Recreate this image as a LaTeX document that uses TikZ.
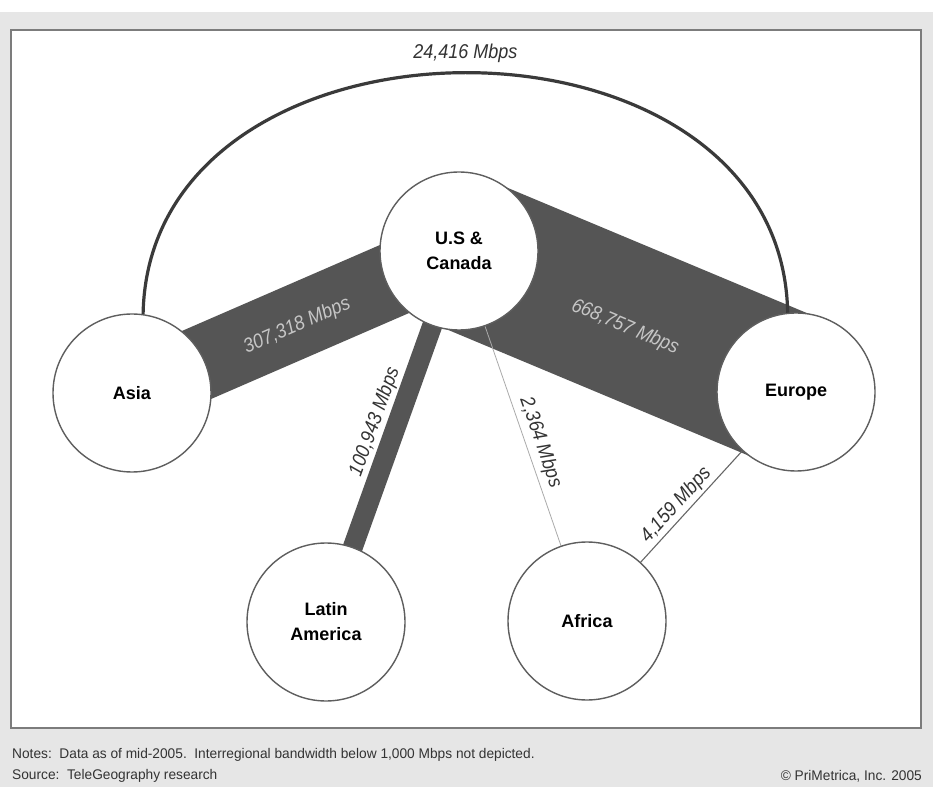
\documentclass[tikz,border=0pt]{standalone}
\usepackage{fontspec}
\setmainfont{Liberation Sans}
\newfontfamily\mbpsfont[FakeStretch=0.9]{Liberation Sans}
\newfontfamily\notefont[FakeStretch=0.98]{Liberation Sans}
\usetikzlibrary{positioning}
\pgfdeclarelayer{frame}
\pgfdeclarelayer{bands}
\pgfsetlayers{frame,bands,main}
\definecolor{pagegray}{HTML}{E6E6E6}
\definecolor{framegray}{HTML}{7C7C7C}
\definecolor{bandgray}{HTML}{555555}
\definecolor{circgray}{HTML}{5E5E5E}
\definecolor{arcgray}{HTML}{3A3A3A}
\definecolor{labelgray}{HTML}{C6C6C6}
\definecolor{textgray}{HTML}{333333}
\definecolor{faintline}{HTML}{AAAAAA}
\definecolor{midline}{HTML}{666666}

\begin{document}
\begin{tikzpicture}[x=1pt, y=1pt,
    region/.style={circle, draw=circgray, line width=1.4pt, fill=white,
        minimum size=158pt, inner sep=0pt, align=center, text=black,
        font=\bfseries\fontsize{18}{25}\selectfont},
    band/.style={draw=bandgray},
    mbps/.style={font=\mbpsfont\itshape\fontsize{20}{24}\selectfont, inner sep=0pt, outer sep=0pt},
    bandlabel/.style={mbps, sloped, text=labelgray},
    linelabel/.style={mbps, sloped, text=textgray},
    note/.style={font=\notefont\fontsize{14}{16}\selectfont, text=textgray, inner sep=0pt}]
    \useasboundingbox (0,0) rectangle (933,787);

    % Page and frame
    \begin{pgfonlayer}{frame}
        \fill[pagegray] (0,0) rectangle (933,787);
        \fill[white] (0,775) rectangle (933,787);
        \draw[framegray, line width=1.5pt, fill=white] (11,59) rectangle (921,757);
    \end{pgfonlayer}

    % Regions
    \node[region] (us) at (459,536) {U.S \&\\Canada};
    \node[region] (asia) at (132,394) {Asia};
    \node[region] (europe) at (796,395) {Europe};
    \node[region] (latam) at (326,165) {Latin\\America};
    \node[region] (africa) at (587,166) {Africa};

    % Bandwidth between regions
    \begin{pgfonlayer}{bands}
        \path
        (asia.center) edge[band, line width=74pt] node[bandlabel, pos=0.5, below=-5pt] {307,318 Mbps} (us.center)
        (us.center) edge[band, line width=154pt] node[bandlabel, pos=0.5, below=-3pt] {668,757 Mbps} (europe.center)
        (latam.center) edge[band, line width=20pt] node[linelabel, pos=0.52, above=12pt] {100,943 Mbps} (us.center)
        (us.center) edge[draw=faintline, line width=0.8pt] node[linelabel, pos=0.53, above=5pt] {2,364 Mbps} (africa.center)
        (africa.center) edge[draw=midline, line width=1.1pt] node[linelabel, pos=0.47, above=3pt] {4,159 Mbps} (europe.center);
    \end{pgfonlayer}

    % Asia to Europe
    \draw[arcgray, line width=3.2pt] (asia.82) .. controls +(6,321) and +(-6,321) .. (europe.96)
        node[mbps, midway, above=10pt, text=textgray] (arclabel) {24,416 Mbps};

    % Notes
    \node[note, anchor=west] (notes) at (12,32) {Notes:\ \ Data as of mid-2005.\ \ Interregional bandwidth below 1,000 Mbps not depicted.};
    \node[note, anchor=west] (source) at (12,11) {Source:\ \ TeleGeography research};
    \node[note, anchor=east] (copy) at (922,11) {\textcopyright\ PriMetrica, Inc. 2005};
\end{tikzpicture}
\end{document}
